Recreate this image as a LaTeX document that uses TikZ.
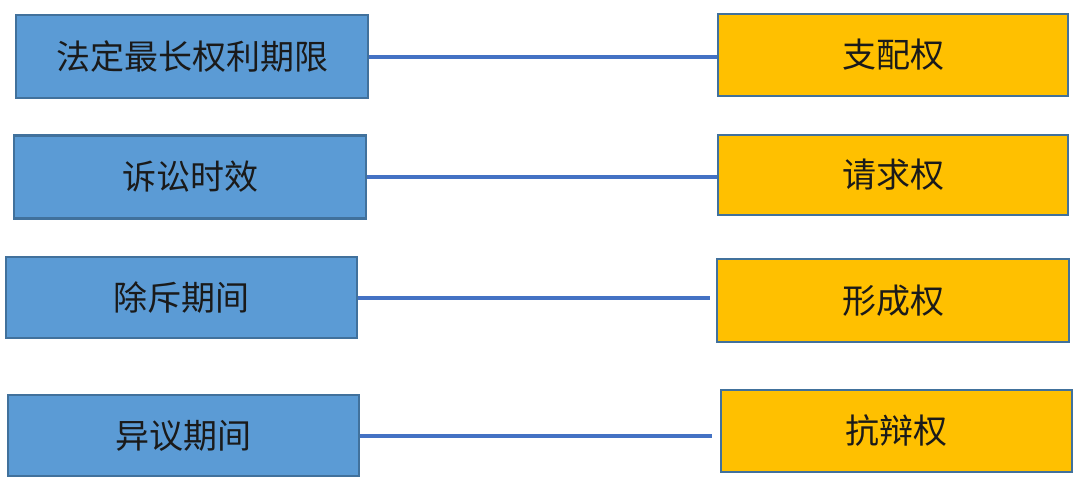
\documentclass[tikz,border=0pt]{standalone}
\usepackage{fontspec}
\newfontfamily\cjk{Noto Sans CJK SC}
\definecolor{bluefill}{HTML}{5B9BD5}
\definecolor{boxedge}{HTML}{41719C}
\definecolor{orangefill}{HTML}{FFC000}
\definecolor{linkblue}{HTML}{4472C4}
\definecolor{txt}{HTML}{1A1A1A}
\begin{document}
\begin{tikzpicture}[x=0.75pt,y=-0.75pt,
  box/.style={draw=boxedge,line width=1.6pt,inner sep=0pt,font=\cjk\fontsize{25.5}{30}\selectfont,text=txt},
  lbox/.style={box,fill=bluefill},
  rbox/.style={box,fill=orangefill},
  link/.style={draw=linkblue,line width=3pt}]
\useasboundingbox (0,0) rectangle (1080,487);
\node[lbox,minimum width=352*0.75pt,minimum height=83*0.75pt] (l1) at (192,56.5) {法定最长权利期限};
\node[lbox,minimum width=352*0.75pt,minimum height=83*0.75pt] (l2) at (190,177) {诉讼时效};
\node[lbox,minimum width=351*0.75pt,minimum height=81*0.75pt] (l3) at (181.5,297.5) {除斥期间};
\node[lbox,minimum width=351*0.75pt,minimum height=81*0.75pt] (l4) at (183.5,435.5) {异议期间};
\node[rbox,minimum width=350*0.75pt,minimum height=82*0.75pt] (r1) at (893,55) {支配权};
\node[rbox,minimum width=350*0.75pt,minimum height=80*0.75pt] (r2) at (893,175) {请求权};
\node[rbox,minimum width=352*0.75pt,minimum height=83*0.75pt] (r3) at (893,300.5) {形成权};
\node[rbox,minimum width=351*0.75pt,minimum height=82*0.75pt] (r4) at (896.5,431) {抗辩权};
\coordinate (e3) at (710,297);
\coordinate (e4) at (712,434);
\draw[link] (l1.east) -- (l1.east -| r1.west);
\draw[link] (l2.east) -- (l2.east -| r2.west);
\draw[link] (l3.east) -- (l3.east -| e3);
\draw[link] (l4.east) -- (l4.east -| e4);
\end{tikzpicture}
\end{document}
